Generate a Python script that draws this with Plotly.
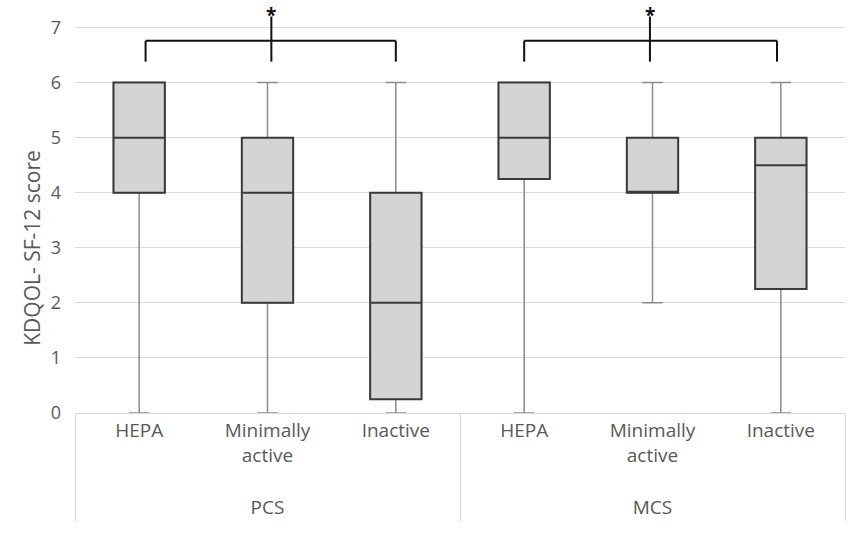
import plotly.graph_objects as go

# score summary per group
domains = ["PCS", "PCS", "PCS", "MCS", "MCS", "MCS"]
activity = ["HEPA", "Minimally<br>active", "Inactive", "HEPA", "Minimally<br>active", "Inactive"]
lower = [0, 0, 0, 0, 2, 0]
q1 = [4, 2, 0.25, 4.25, 4, 2.25]
median = [5, 4, 2, 5, 4, 4.5]
q3 = [6, 5, 4, 6, 5, 5]
upper = [6, 6, 6, 6, 6, 6]

keys = [d + " " + a for d, a in zip(domains, activity)]
outer = ["<br>" + d for d in domains]  # blank line pushes the group label down
fill = "#d4d4d4"
grey = "#595959"

fig = go.Figure()
# whiskers (lighter grey)
fig.add_trace(go.Box(x=keys, q1=q1, median=median, q3=q3,
                     lowerfence=lower, upperfence=upper,
                     fillcolor=fill, line=dict(color="#8c8c8c", width=1.5),
                     whiskerwidth=0.4, width=0.4, boxpoints=False,
                     hoverinfo="skip", showlegend=False))
# box body with darker outline
fig.add_trace(go.Box(x=keys, q1=q1, median=median, q3=q3,
                     lowerfence=q1, upperfence=q3,
                     fillcolor=fill, line=dict(color="#3a3a3a", width=2),
                     whiskerwidth=0, width=0.4, boxpoints=False,
                     hoverinfo="skip", showlegend=False))
# invisible trace that carries the two-level category axis
fig.add_trace(go.Scatter(x=[outer, activity], y=median, xaxis="x2", mode="markers",
                         marker=dict(opacity=0), hoverinfo="skip", showlegend=False))

# significance brackets
black = dict(color="#111111", width=2)
for left, mid, right in [(0.05, 1.03, 2.0), (3.0, 3.98, 4.97)]:
    fig.add_shape(type="line", xref="x", yref="y", x0=left, x1=right, y0=6.76, y1=6.76, line=black)
    fig.add_shape(type="line", xref="x", yref="y", x0=left, x1=left, y0=6.76, y1=6.38, line=black)
    fig.add_shape(type="line", xref="x", yref="y", x0=right, x1=right, y0=6.76, y1=6.38, line=black)
    fig.add_shape(type="line", xref="x", yref="y", x0=mid, x1=mid, y0=7.2, y1=6.38, line=black)
    fig.add_annotation(x=mid, y=1, xref="x", yref="paper", text="<b>*</b>", showarrow=False,
                       yanchor="top", font=dict(size=19, color="#111111"))

# y axis title, placed a little below the plot centre as in the original
fig.add_annotation(x=0, y=0.4, xref="paper", yref="paper", xshift=-59, textangle=-90,
                   text="KDQOL- SF-12 score", showarrow=False,
                   font=dict(size=21, color=grey))

fig.update_layout(
    width=850, height=534,
    margin=dict(l=75, r=5, t=0, b=121),
    paper_bgcolor="white", plot_bgcolor="white",
    boxmode="overlay",
    font=dict(family="Open Sans, Noto Sans, sans-serif", size=18, color=grey),
    xaxis=dict(type="category", categoryorder="array", categoryarray=keys,
               range=[-0.5, 5.5], showticklabels=False, showgrid=False, ticks="",
               automargin=False),
    xaxis2=dict(type="multicategory", overlaying="x", side="bottom", anchor="y",
                range=[-0.5, 5.5], showline=True, linecolor="#d9d9d9", linewidth=1,
                showgrid=False, ticks="", showdividers=True, dividercolor="#d9d9d9",
                dividerwidth=1, tickfont=dict(size=19, color=grey), automargin=False),
)
fig.update_yaxes(range=[0, 7.5], dtick=1, tick0=0, showgrid=True, gridcolor="#d9d9d9",
                 gridwidth=1, zeroline=False, ticks="", automargin=False,
                 ticklabelstandoff=13, tickfont=dict(size=18, color=grey))

fig.write_html("out.html", config={"displayModeBar": False},
               post_script="document.body.style.margin='0';")
